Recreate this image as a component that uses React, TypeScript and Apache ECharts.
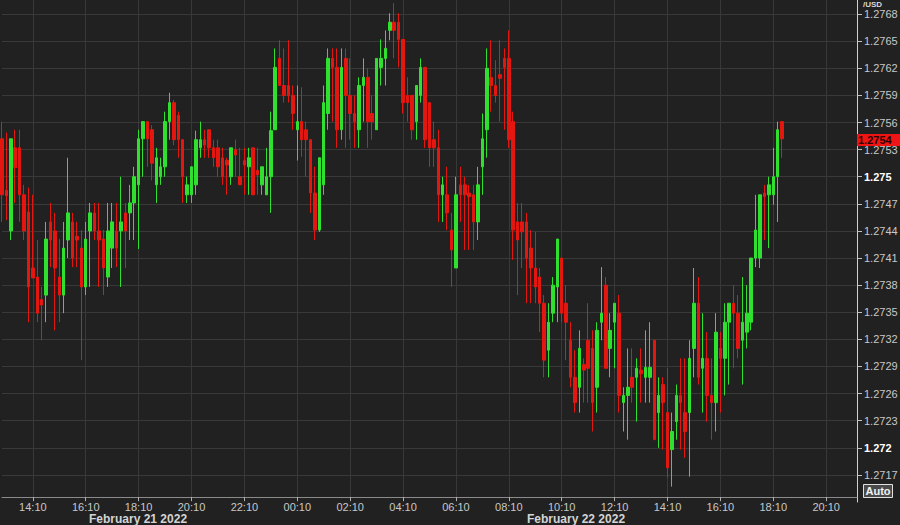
import React, { useEffect, useRef } from "react";
import * as echarts from "echarts";

// 10-minute candles, GBP/USD, 21 Feb 2022 13:00 -> 22 Feb 2022 18:30
const firstSlotMinutes = 13 * 60; // 13:00
const slotMinutes = 10;
const slotCount = 195; // axis runs on to 21:20 on 22 Feb

const openPrices = [
  1.27542, 1.27485, 1.2744, 1.27532, 1.27532, 1.2748, 1.27461, 1.27399, 1.27389, 1.27364,
  1.27369, 1.2745, 1.2744, 1.27389, 1.27369, 1.2743, 1.2745, 1.27434, 1.27421, 1.27378,
  1.2744, 1.2746, 1.2744, 1.27431, 1.27389, 1.27421, 1.2744, 1.2744, 1.2746, 1.2746,
  1.27471, 1.27491, 1.27542, 1.27561, 1.27552, 1.27491, 1.275, 1.27511, 1.27561, 1.27582,
  1.27568, 1.27541, 1.2748, 1.2748, 1.27491, 1.27532, 1.27541, 1.27552, 1.27532, 1.27532,
  1.27521, 1.27518, 1.275, 1.2753, 1.275, 1.27518, 1.27511, 1.27532, 1.27507, 1.27491,
  1.2748, 1.275, 1.27552, 1.27631, 1.27601, 1.27601, 1.2759, 1.27552, 1.27561, 1.27552,
  1.27541, 1.27482, 1.27441, 1.27491, 1.2757, 1.27631, 1.27621, 1.27552, 1.27631, 1.2759,
  1.2757, 1.27552, 1.27601, 1.2761, 1.2757, 1.27552, 1.27621, 1.27631, 1.27662, 1.27671,
  1.27671, 1.27652, 1.2759, 1.2759, 1.27561, 1.2759, 1.27621, 1.27582, 1.27541, 1.27532,
  1.2748, 1.2748, 1.27441, 1.27399, 1.27491, 1.27491, 1.27482, 1.2748, 1.2745, 1.27511,
  1.27552, 1.2761, 1.27601, 1.27613, 1.27631, 1.27631, 1.27561, 1.2745, 1.2745, 1.2745,
  1.27421, 1.27399, 1.27389, 1.2736, 1.27308, 1.27349, 1.27378, 1.2741, 1.2736, 1.27319,
  1.27278, 1.27267, 1.27292, 1.27319, 1.2731, 1.27267, 1.27339, 1.2738, 1.2731, 1.27339,
  1.27349, 1.2725, 1.27258, 1.27278, 1.27278, 1.27286, 1.27278, 1.27278, 1.27319, 1.27239,
  1.2727, 1.27239, 1.27198, 1.27229, 1.27258, 1.27239, 1.27239, 1.2731, 1.2736, 1.27288,
  1.27299, 1.27258, 1.2725, 1.2731, 1.27299, 1.27339, 1.2736, 1.27349, 1.27319, 1.27328,
  1.27339, 1.2741, 1.2741, 1.27482, 1.2748, 1.2748, 1.275, 1.27561,
];

const closePrices = [
  1.2748, 1.27479, 1.27542, 1.2751, 1.2748, 1.2744, 1.27378, 1.27388, 1.27349, 1.27358,
  1.27431, 1.2743, 1.27399, 1.27369, 1.27421, 1.2746, 1.2741, 1.2743, 1.27378, 1.27431,
  1.2746, 1.2744, 1.2743, 1.27399, 1.2744, 1.2745, 1.27421, 1.2745, 1.2744, 1.27471,
  1.275, 1.27542, 1.27561, 1.27542, 1.27515, 1.27521, 1.27511, 1.27561, 1.27582, 1.27541,
  1.27541, 1.275, 1.27491, 1.27511, 1.27541, 1.27541, 1.27535, 1.27532, 1.27521, 1.27511,
  1.275, 1.27513, 1.27532, 1.27524, 1.27491, 1.27513, 1.27521, 1.2748, 1.27502, 1.27511,
  1.275, 1.27551, 1.27621, 1.27601, 1.2759, 1.2759, 1.2757, 1.27561, 1.27541, 1.27541,
  1.27482, 1.27441, 1.27521, 1.27582, 1.27631, 1.27621, 1.27552, 1.27621, 1.2759, 1.2757,
  1.27561, 1.27601, 1.2761, 1.27561, 1.27561, 1.27631, 1.27631, 1.27642, 1.27671, 1.27662,
  1.27652, 1.27582, 1.27582, 1.27552, 1.27601, 1.27621, 1.27541, 1.27532, 1.27532, 1.2748,
  1.27491, 1.2746, 1.27419, 1.2748, 1.2748, 1.2748, 1.27478, 1.2745, 1.27491, 1.27542,
  1.2762, 1.27601, 1.2759, 1.27609, 1.27621, 1.27541, 1.27441, 1.2743, 1.27439, 1.2741,
  1.27399, 1.27378, 1.2736, 1.27297, 1.27339, 1.2738, 1.27431, 1.27349, 1.27339, 1.27278,
  1.2725, 1.2731, 1.27286, 1.27288, 1.2725, 1.2733, 1.27349, 1.27288, 1.2733, 1.2736,
  1.27258, 1.27258, 1.27267, 1.27267, 1.27288, 1.27282, 1.27289, 1.27289, 1.27209, 1.27258,
  1.2725, 1.27178, 1.27218, 1.27258, 1.2725, 1.27218, 1.27299, 1.2736, 1.27278, 1.27299,
  1.27258, 1.2725, 1.27328, 1.27299, 1.27339, 1.2736, 1.27349, 1.2731, 1.27339, 1.27349,
  1.2741, 1.27441, 1.2748, 1.27478, 1.27491, 1.275, 1.27552, 1.27542,
];

const lowPrices = [
  1.2745, 1.27452, 1.2743, 1.27471, 1.2745, 1.2743, 1.27339, 1.27388, 1.27339, 1.27319,
  1.27339, 1.274, 1.2733, 1.27339, 1.27349, 1.2741, 1.274, 1.274, 1.27297, 1.27369,
  1.27378, 1.2743, 1.27378, 1.27369, 1.27378, 1.27399, 1.274, 1.27378, 1.27399, 1.2743,
  1.2743, 1.2742, 1.275, 1.27511, 1.27496, 1.27471, 1.27491, 1.275, 1.27541, 1.27535,
  1.27521, 1.27471, 1.27471, 1.27471, 1.2748, 1.27521, 1.27521, 1.27521, 1.27511, 1.275,
  1.27491, 1.2748, 1.27491, 1.275, 1.27491, 1.2748, 1.2748, 1.2748, 1.2748, 1.2748,
  1.2748, 1.2746, 1.27552, 1.27601, 1.27582, 1.27582, 1.27552, 1.27518, 1.27522, 1.275,
  1.2746, 1.2743, 1.27439, 1.2748, 1.27552, 1.27561, 1.27532, 1.27541, 1.27532, 1.27541,
  1.27532, 1.27532, 1.27561, 1.27532, 1.27541, 1.27552, 1.27601, 1.27601, 1.27651, 1.27631,
  1.27621, 1.2757, 1.27561, 1.27541, 1.27541, 1.27582, 1.27532, 1.27511, 1.27511, 1.2745,
  1.2745, 1.27441, 1.27378, 1.27399, 1.2745, 1.27419, 1.27419, 1.27419, 1.2743, 1.2748,
  1.27521, 1.27572, 1.27582, 1.27561, 1.27552, 1.27532, 1.27408, 1.27369, 1.27399, 1.2736,
  1.2736, 1.2736, 1.27328, 1.27278, 1.27278, 1.27339, 1.27339, 1.27339, 1.27297, 1.27267,
  1.27239, 1.27239, 1.2725, 1.2725, 1.27218, 1.27239, 1.27319, 1.27288, 1.27278, 1.27288,
  1.27239, 1.27218, 1.27209, 1.2725, 1.27229, 1.2725, 1.2725, 1.2725, 1.27209, 1.272,
  1.27198, 1.27167, 1.27157, 1.27209, 1.27198, 1.27189, 1.27168, 1.27278, 1.2727, 1.27239,
  1.27229, 1.27209, 1.27218, 1.27239, 1.27258, 1.2727, 1.27288, 1.27299, 1.2727, 1.2731,
  1.2733, 1.274, 1.27399, 1.2743, 1.27421, 1.27469, 1.2745, 1.27521,
];

const highPrices = [
  1.27561, 1.27549, 1.27542, 1.27552, 1.27552, 1.27491, 1.27488, 1.2748, 1.2743, 1.27378,
  1.2745, 1.27471, 1.2746, 1.27431, 1.2745, 1.27521, 1.2746, 1.2745, 1.27441, 1.2745,
  1.27471, 1.27471, 1.27471, 1.27441, 1.27471, 1.27471, 1.27471, 1.275, 1.27471, 1.27491,
  1.27511, 1.27552, 1.27561, 1.27561, 1.27557, 1.27532, 1.27521, 1.27572, 1.27593, 1.27585,
  1.27572, 1.27541, 1.275, 1.27511, 1.27551, 1.27561, 1.27552, 1.27552, 1.27541, 1.27541,
  1.27532, 1.27521, 1.27532, 1.27541, 1.27532, 1.27532, 1.27532, 1.27532, 1.27532, 1.27511,
  1.27532, 1.27572, 1.27642, 1.27651, 1.27642, 1.27651, 1.27601, 1.27601, 1.27599, 1.27561,
  1.27541, 1.27511, 1.27521, 1.27601, 1.27642, 1.27642, 1.27642, 1.27642, 1.27642, 1.27631,
  1.2759, 1.2761, 1.27631, 1.2762, 1.2759, 1.27631, 1.27652, 1.27662, 1.27681, 1.27692,
  1.27681, 1.27652, 1.2761, 1.2759, 1.27601, 1.27631, 1.27621, 1.27582, 1.27561, 1.27552,
  1.275, 1.27511, 1.2746, 1.275, 1.27511, 1.275, 1.27491, 1.27491, 1.27511, 1.2757,
  1.27642, 1.27651, 1.27629, 1.27651, 1.27642, 1.27662, 1.27572, 1.27471, 1.27471, 1.2746,
  1.27441, 1.27439, 1.27399, 1.27369, 1.2736, 1.27389, 1.27431, 1.2741, 1.2738, 1.27339,
  1.27308, 1.2733, 1.27299, 1.2736, 1.2733, 1.27339, 1.274, 1.27389, 1.27349, 1.2736,
  1.27369, 1.27267, 1.2731, 1.2731, 1.27299, 1.2731, 1.2733, 1.27339, 1.27319, 1.27278,
  1.27278, 1.27288, 1.27239, 1.2727, 1.27299, 1.27299, 1.27319, 1.27399, 1.27389, 1.27349,
  1.27328, 1.27299, 1.27349, 1.27328, 1.2736, 1.2736, 1.2738, 1.27369, 1.27389, 1.2738,
  1.2741, 1.2748, 1.2748, 1.27491, 1.275, 1.27532, 1.27561, 1.27561,
];

// price axis: ticks every 3 pips
const priceMin = 1.2714;
const priceMax = 1.2771;
const priceStep = 0.0003;

const pairName = "/USD";
const dayLabels = ["February 21 2022", "February 22 2022"];
const modeLabel = "Auto";

const UP = "#2fe02f";
const DOWN = "#e3170f";
const BG = "#212121";
const GRID = "#393939";
const FONT = "Liberation Sans, Arial, sans-serif";

function pad2(n: number) {
  return String(n).padStart(2, "0");
}

function buildSlots(): string[] {
  const out: string[] = [];
  for (let i = 0; i < slotCount; i++) {
    const m = (firstSlotMinutes + i * slotMinutes) % 1440;
    out.push(pad2(Math.floor(m / 60)) + ":" + pad2(m % 60));
  }
  return out;
}

function isMajorSlot(label: string) {
  return label.endsWith(":10") && parseInt(label.slice(0, 2), 10) % 2 === 0;
}

export default function App() {
  const ref = useRef<HTMLDivElement | null>(null);

  useEffect(() => {
    if (!ref.current) return;
    const chart = echarts.init(ref.current, undefined, { renderer: "svg" });
    const slots = buildSlots();
    const candles = openPrices.map((o, i) => [o, closePrices[i], lowPrices[i], highPrices[i]]);
    const last = closePrices[closePrices.length - 1];
    const tickFn = (index: number) => isMajorSlot(slots[index]);

    const staticGraphics: any[] = [
      {
        id: "pair",
        type: "text",
        x: 863,
        y: 0,
        silent: true,
        style: {
          text: pairName,
          fill: "#d8d8d8",
          font: "bold 8px " + FONT,
          verticalAlign: "top",
        },
      },
      {
        id: "day1",
        type: "text",
        x: 89,
        y: 513,
        silent: true,
        style: {
          text: dayLabels[0],
          fill: "#d4d4d4",
          font: "bold 12px " + FONT,
          verticalAlign: "top",
        },
      },
      {
        id: "day2",
        type: "text",
        x: 527,
        y: 513,
        silent: true,
        style: {
          text: dayLabels[1],
          fill: "#d4d4d4",
          font: "bold 12px " + FONT,
          verticalAlign: "top",
        },
      },
      {
        id: "autoBox",
        type: "rect",
        silent: true,
        shape: { x: 863.5, y: 484.5, width: 29, height: 13 },
        style: { fill: "#4a4a4a", stroke: "#e0e0e0", lineWidth: 1 },
      },
      {
        id: "autoText",
        type: "text",
        x: 878,
        y: 491,
        silent: true,
        style: {
          text: modeLabel,
          fill: "#f2f2f2",
          font: "bold 11px " + FONT,
          align: "center",
          verticalAlign: "middle",
        },
      },
    ];

    chart.setOption({
      animation: false,
      backgroundColor: BG,
      grid: {
        left: 2,
        right: 43,
        top: -13,
        height: 515,
        containLabel: false,
        outerBoundsMode: "none",
      },
      xAxis: {
        type: "category",
        data: slots,
        boundaryGap: false,
        offset: -5,
        axisLine: { show: true, lineStyle: { color: "#8a8a8a", width: 1 } },
        axisTick: { show: true, interval: tickFn, length: 4, lineStyle: { color: "#b0b0b0" } },
        axisLabel: {
          interval: tickFn,
          color: "#c8c8c8",
          fontSize: 11,
          fontFamily: FONT,
          margin: 4,
        },
        splitLine: { show: true, interval: tickFn, lineStyle: { color: GRID, width: 1 } },
      },
      yAxis: {
        type: "value",
        position: "right",
        min: priceMin,
        max: priceMax,
        interval: priceStep,
        scale: true,
        axisLine: { show: true, lineStyle: { color: "#d0d0d0", width: 1 } },
        axisTick: { show: true, length: 5, lineStyle: { color: "#c0c0c0" } },
        axisLabel: {
          showMinLabel: false,
          showMaxLabel: false,
          margin: 7,
          color: "#c8c8c8",
          fontSize: 11,
          fontFamily: FONT,
          formatter: (v: number) => {
            const s = String(parseFloat(v.toFixed(4)));
            const round = Math.abs(v * 1000 - Math.round(v * 1000)) < 1e-6;
            return round ? "{b|" + s + "}" : s;
          },
          rich: {
            b: { fontWeight: "bold", color: "#ffffff", fontSize: 11, fontFamily: FONT },
          },
        },
        splitLine: {
          show: true,
          showMinLine: false,
          showMaxLine: false,
          lineStyle: { color: GRID, width: 1 },
        },
      },
      series: [
        {
          type: "candlestick",
          data: candles,
          barWidth: 3,
          clip: false,
          itemStyle: {
            color: UP,
            color0: DOWN,
            borderColor: UP,
            borderColor0: DOWN,
            borderWidth: 1,
          },
        },
      ],
      graphic: staticGraphics,
    });

    // current-price tag placed through the price axis scale
    const yPix = chart.convertToPixel({ yAxisIndex: 0 }, last) as number;
    if (typeof yPix === "number" && isFinite(yPix)) {
      const cy = Math.round(yPix) + 1;
      chart.setOption({
        graphic: [
          ...staticGraphics,
          {
            id: "lastTag",
            type: "rect",
            silent: true,
            z: 100,
            shape: { x: 857, y: cy - 6, width: 43, height: 12 },
            style: { fill: "#f01414" },
          },
          {
            id: "lastText",
            type: "text",
            silent: true,
            z: 101,
            x: 858,
            y: cy,
            style: {
              text: last.toFixed(4),
              fill: "#2a0000",
              font: "bold 11px " + FONT,
              verticalAlign: "middle",
            },
          },
        ],
      });
    }

    return () => chart.dispose();
  }, []);

  return (
    <div
      ref={ref}
      style={{ position: "fixed", left: 0, top: 0, width: 900, height: 525, background: BG }}
    />
  );
}
